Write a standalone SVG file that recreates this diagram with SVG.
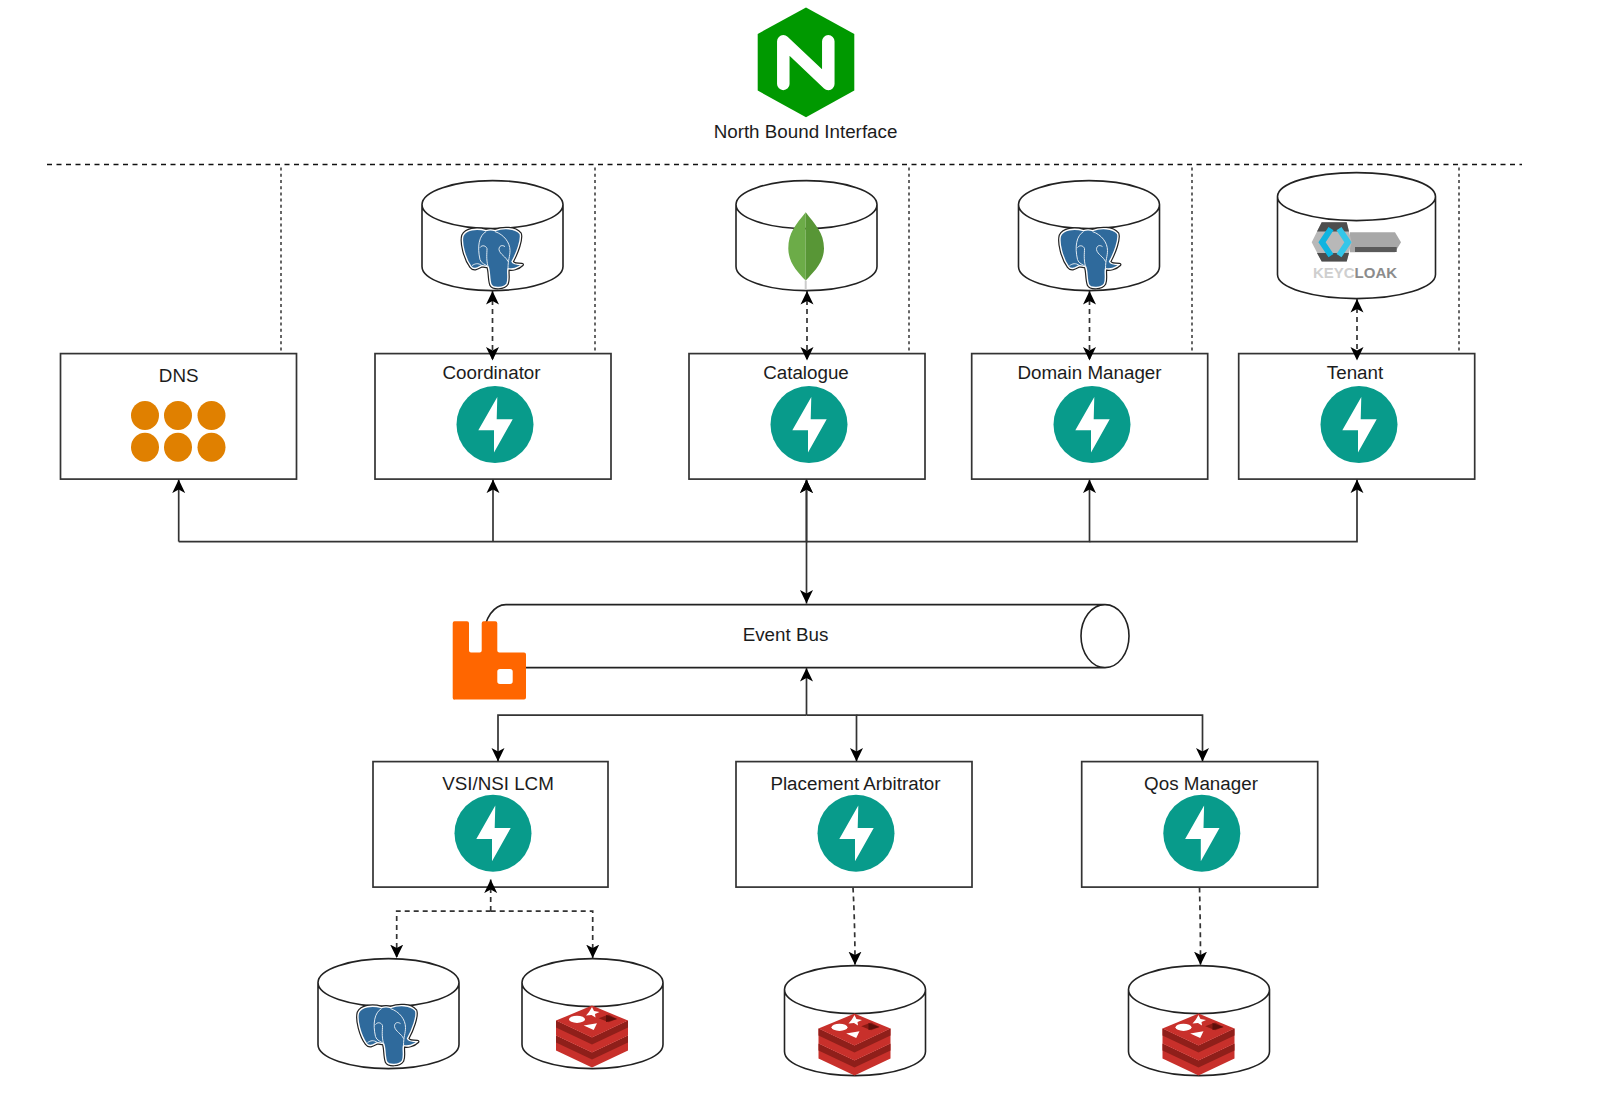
<svg xmlns="http://www.w3.org/2000/svg" width="1610" height="1094" viewBox="0 0 1610 1094">
<style>
text{font-family:"Liberation Sans",Arial,sans-serif;font-size:18.8px;fill:#1c1c1c;text-anchor:middle}
.box{fill:#fff;stroke:#333;stroke-width:1.7}
.cyl{fill:#fff;stroke:#222;stroke-width:1.6}
.c{fill:none;stroke:#333;stroke-width:1.7}
.solid{marker-end:url(#arrow)}
.both{marker-start:url(#arrow);marker-end:url(#arrow)}
.dash{stroke-dasharray:5 4}
.sep{fill:none;stroke:#111;stroke-width:1.5;stroke-dasharray:5 4.5}
.guide{fill:none;stroke:#666;stroke-width:2;stroke-dasharray:3 3.2}
.dot{fill:#e08000}
</style>
<defs>
<marker id="arrow" viewBox="0 0 14 14" markerUnits="userSpaceOnUse" markerWidth="14" markerHeight="14" refX="13.500" refY="7" orient="auto-start-reverse"><path d="M13.500 7L0 0.500L3.500 7L0 13.500Z" fill="#000"/></marker>
<path id="cylinder" class="cyl" d="M0 24A70.5 24 0 0 1 141 24V86A70.5 24 0 0 1 0 86ZM0 24A70.5 24 0 0 0 141 24"/>
<g id="fastapi"><circle r="38.5" fill="#089b8b"/><path d="M2.3-27.7L-16.7 5.7H-1V28L17.7-5.3H1.7Z" fill="#fff"/></g>
<path id="pgbody" d="M24 2C14-1 4 1 1 7C-1 14 3 30 9 38C12 42 16 39 20 37L26 38C28 42 27 50 29 56C31 60 42 60 45 55C47 50 45 44 46 40C50 41 56 40 60 36C56 36 51 36 50 33C55 24 60 10 58 5C53-1 41-1 33 2C30 1 27 1 24 2Z"/>
<g id="pg">
<use href="#pgbody" fill="#336791" stroke="#222" stroke-width="3.8" stroke-linejoin="round"/>
<use href="#pgbody" fill="#2f6a9c" stroke="#fff" stroke-width="1.4" stroke-linejoin="round"/>
<path d="M24 3C17 7 15 18 18 31C19 35 24 36 26 38M33 3C42 6 48 14 48 22C48 28 46 31 46 40M18 19C20 16 24 17 25 20C25 25 24 30 26 38M43 18C40 16 37 17 37 21C38 26 44 28 46 33M10 37C13 35 16 34 20 37" fill="none" stroke="#dfe9f1" stroke-width="1"/>
</g>
<g id="redis">
<path d="M0 45L36 62L72 45V30L36 47L0 30Z" fill="#c8302b"/>
<path d="M0 37L36 54L72 37V30L36 47L0 30Z" fill="#8f1f1a"/>
<path d="M0 30L36 47L72 30V15L36 32L0 15Z" fill="#c8302b"/>
<path d="M0 22L36 39L72 22V15L36 32L0 15Z" fill="#8f1f1a"/>
<path d="M36 0L72 15L36 32L0 15Z" fill="#c8302b"/>
<ellipse cx="21" cy="13.7" rx="8" ry="3.6" fill="#fff"/>
<path d="M36 1.500L38 5.500L43.500 6.500L39 8.500L39.500 12L35.500 9.500L30 10L33 6.500Z" fill="#fff"/>
<path d="M27.700 20L41 17.700L37.700 24.300Z" fill="#fff"/>
<path d="M42.700 12.700L52.700 9L61 13.300L52.700 16.700Z" fill="#8a1a14"/>
<path d="M50 9.500L61 13.300L50 16.500Z" fill="#5e0f0b"/>
</g>
</defs>

<g transform="translate(0 0.600)">
<g id="separator">
<path class="sep" d="M47 164H1522"/>
</g>
<g id="guides">
<path class="guide" d="M281 167V353M595 167V353M909 167V353M1192 167V353M1459 167V353"/>
</g>

<g id="nginx">
<path d="M806 7L854.300 33.300V90L806 116.700L757.700 90V33.300Z" fill="#009900"/>
<path d="M783.300 83.300V40.700L828.300 83.300V40.700" fill="none" stroke="#fff" stroke-width="12.500" stroke-linecap="round" stroke-linejoin="round"/>
<text x="805.500" y="137.500">North Bound Interface</text>
</g>

<g id="db-coordinator"><use href="#cylinder" x="422" y="180"/><use href="#pg" x="462" y="228"/></g>
<g id="db-catalogue"><use href="#cylinder" x="736" y="180"/>
<path d="M805.700 280V289" stroke="#ccc" stroke-width="2"/>
<path d="M805.700 211.700C796 224 788.300 232 788.300 248C788.300 262 798 272 805.700 280Z" fill="#6cac48"/>
<path d="M805.700 211.700C815 224 824 232 824 248C824 262 813 272 805.700 280Z" fill="#589636"/>
</g>
<g id="db-domain"><use href="#cylinder" x="1018.500" y="180"/><use href="#pg" x="1059.500" y="228"/></g>
<g id="db-keycloak">
<path class="cyl" d="M1277.500 196A79 24 0 0 1 1435.500 196V274A79 24 0 0 1 1277.500 274ZM1277.500 196A79 24 0 0 0 1435.500 196"/>
<path d="M1350 231.700H1395L1401 241.700L1395 251.700H1350Z" fill="#a8a8a8"/>
<path d="M1355 246.500H1396.700V251.500H1355Z" fill="#5a5a5a"/>
<path d="M1311.700 241.700L1321.700 221.700H1346.700L1351.700 241.700L1346.700 261H1321.700Z" fill="#b8b8b8"/>
<path d="M1321.700 221.700H1346.700L1349 231H1317Z M1317 252.500H1349L1346.700 261H1321.700Z" fill="#4d4d4d"/>
<path d="M1331 228L1322 241.700L1331 255" fill="none" stroke="#0fb4e0" stroke-width="6"/>
<path d="M1339 228L1348 241.700L1339 255" fill="none" stroke="#33c6e9" stroke-width="6"/>
<text x="1355" y="277.500" style="font-size:15px;font-weight:bold"><tspan fill="#cfcfcf">KEYC</tspan><tspan fill="#8c8c8c">LOAK</tspan></text>
</g>

<g id="dns">
<rect class="box" x="60.500" y="353" width="236" height="125.500"/>
<text x="178.700" y="381">DNS</text>
<ellipse class="dot" cx="145" cy="414.800" rx="14" ry="14.500"/><ellipse class="dot" cx="178" cy="414.800" rx="14" ry="14.500"/><ellipse class="dot" cx="211.500" cy="414.800" rx="14" ry="14.500"/>
<ellipse class="dot" cx="145" cy="446.700" rx="14" ry="14.500"/><ellipse class="dot" cx="178" cy="446.700" rx="14" ry="14.500"/><ellipse class="dot" cx="211.500" cy="446.700" rx="14" ry="14.500"/>
</g>
<g id="coordinator"><rect class="box" x="375" y="353" width="236" height="125.500"/><text x="491.500" y="378">Coordinator</text><use href="#fastapi" x="495" y="424"/></g>
<g id="catalogue"><rect class="box" x="689" y="353" width="236" height="125.500"/><text x="806" y="378">Catalogue</text><use href="#fastapi" x="809" y="424"/></g>
<g id="domain-manager"><rect class="box" x="971.700" y="353" width="236" height="125.500"/><text x="1089.500" y="378">Domain Manager</text><use href="#fastapi" x="1092" y="424"/></g>
<g id="tenant"><rect class="box" x="1238.700" y="353" width="236" height="125.500"/><text x="1355" y="378">Tenant</text><use href="#fastapi" x="1359" y="424"/></g>

<g id="event-bus">
<path class="cyl" d="M506 604H1105A24 31.500 0 0 1 1105 667H506A22 31.500 0 0 1 506 604ZM1105 604A24 31.500 0 0 0 1105 667"/>
<text x="785.500" y="640.500">Event Bus</text>
<path d="M455 620.700H467A2 2 0 0 1 469 622.700V650A2 2 0 0 0 471 652H479.700A2 2 0 0 0 481.700 650V622.700A2 2 0 0 1 483.700 620.700H495.300A2 2 0 0 1 497.300 622.700V650A2 2 0 0 0 499.300 652H524A2 2 0 0 1 526 654V697A2 2 0 0 1 524 699H455A2 2 0 0 1 452.700 697V622.700A2 2 0 0 1 455 620.700ZM500 668.300A2.700 2.700 0 0 0 497.300 671V680.600A2.700 2.700 0 0 0 500 683.300H510A2.700 2.700 0 0 0 512.700 680.600V671A2.700 2.700 0 0 0 510 668.300Z" fill="#ff6600" fill-rule="evenodd"/>
</g>

<g id="vsi-nsi-lcm"><rect class="box" x="373" y="761" width="235" height="125.500"/><text x="498" y="789.500">VSI/NSI LCM</text><use href="#fastapi" x="493" y="832.700"/></g>
<g id="placement-arbitrator"><rect class="box" x="736" y="761" width="236" height="125.500"/><text x="855.500" y="789.500">Placement Arbitrator</text><use href="#fastapi" x="856" y="832.700"/></g>
<g id="qos-manager"><rect class="box" x="1081.700" y="761" width="236" height="125.500"/><text x="1201" y="789.500">Qos Manager</text><use href="#fastapi" x="1201.800" y="832.700"/></g>

<g id="db-vsi-pg"><use href="#cylinder" x="318" y="958"/><use href="#pg" x="357.500" y="1005"/></g>
<g id="db-vsi-redis"><use href="#cylinder" x="522" y="958"/><use href="#redis" x="556" y="1005"/></g>
<g id="db-placement-redis"><use href="#cylinder" x="784.500" y="965"/><use href="#redis" x="818.500" y="1013"/></g>
<g id="db-qos-redis"><use href="#cylinder" x="1128.500" y="965"/><use href="#redis" x="1162.500" y="1013"/></g>

<g id="connectors">
<path class="c solid" d="M178.700 541H806.500V479"/>
<path class="c solid" d="M178.700 541V479"/>
<path class="c solid" d="M493 541V479"/>
<path class="c solid" d="M806.500 541H1089.500V479"/>
<path class="c solid" d="M1089.500 541H1357V479"/>
<path class="c both" d="M806.500 479V603"/>
<path class="c solid" d="M806.500 714.500V667.500"/>
<path class="c solid" d="M806.500 714.500H498V761"/>
<path class="c solid" d="M806.500 714.500H856.500V761"/>
<path class="c solid" d="M856.500 714.500H1202.500V761"/>
<path class="c both dash" d="M492.500 290.500V360"/>
<path class="c both dash" d="M807 290.500V360"/>
<path class="c both dash" d="M1089.500 290.500V360"/>
<path class="c both dash" d="M1357 298.500V360"/>
<path class="c solid dash" d="M490.700 910.500V879"/>
<path class="c solid dash" d="M490.700 910.500H396.700V957.500"/>
<path class="c solid dash" d="M490.700 910.500H592.700V957.500"/>
<path class="c solid dash" d="M853 887Q855 925 855 964.500"/>
<path class="c solid dash" d="M1199.500 887Q1200.500 925 1200.500 964.500"/>
</g>
</g>
</svg>
